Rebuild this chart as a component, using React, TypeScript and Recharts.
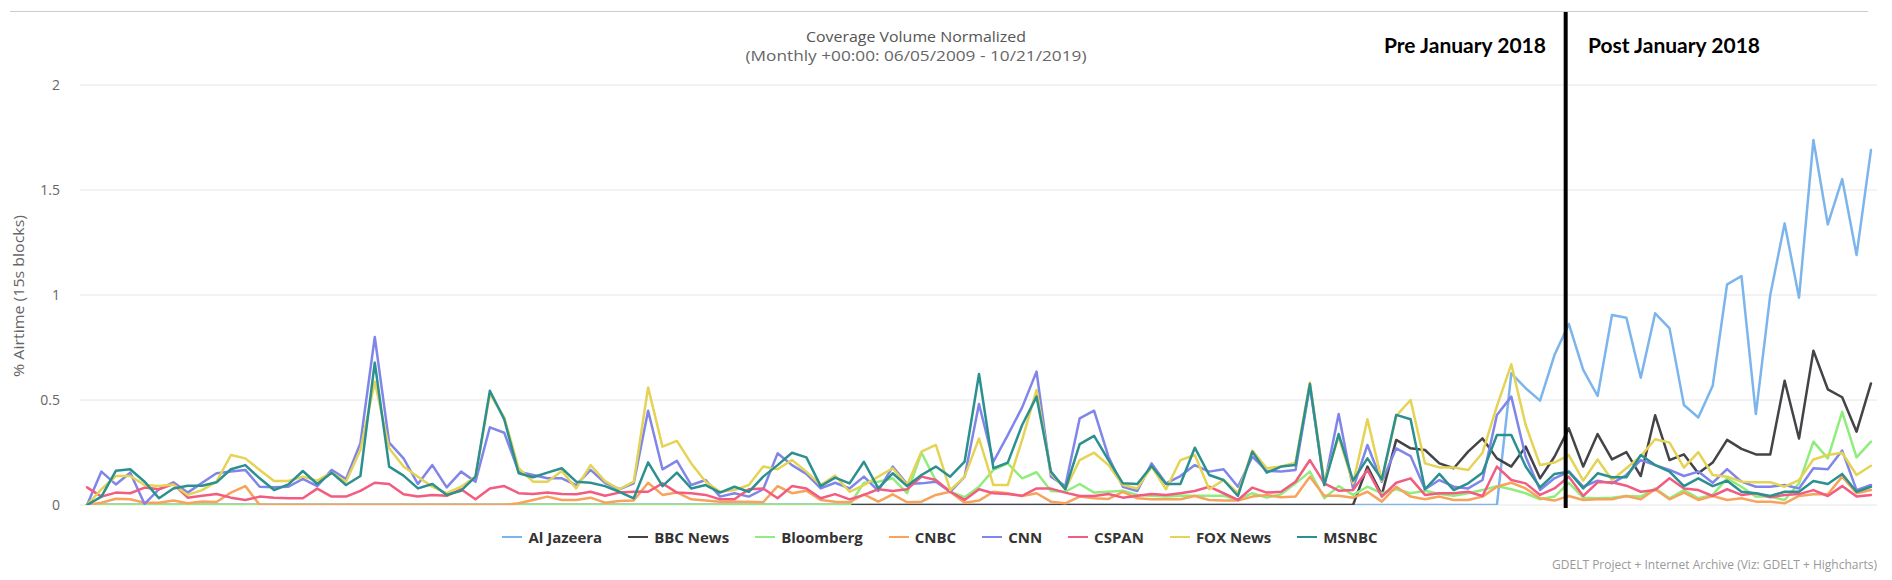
import React from "react";
import { LineChart, Line, XAxis, YAxis, CartesianGrid, ReferenceLine, Legend } from "recharts";

// Monthly index 0 = Jun 2009 ... 124 = Oct 2019
const MONTH_INDEX: number[] = Array.from({ length: 125 }, (_, i) => i);
const Y_TICKS = [0, 0.5, 1, 1.5, 2];

const zeros = (n: number) => Array.from({ length: n }, () => 0);

const AL_JAZEERA: number[] = [
  ...zeros(99),
  0.627, 0.556, 0.497, 0.714, 0.862, 0.643, 0.519, 0.905, 0.892, 0.606,
  0.913, 0.841, 0.476, 0.417, 0.568, 1.051, 1.09, 0.433, 1.0, 1.341,
  0.987, 1.738, 1.336, 1.552, 1.19, 1.69,
];

const BBC_NEWS: number[] = [
  ...zeros(89),
  0.183, 0.048, 0.31, 0.27, 0.262, 0.198, 0.175, 0.254, 0.317, 0.222,
  0.183, 0.278, 0.127, 0.23, 0.365, 0.183, 0.338, 0.217, 0.252, 0.138,
  0.427, 0.214, 0.241, 0.151, 0.202, 0.31, 0.267, 0.241, 0.241, 0.592,
  0.317, 0.735, 0.551, 0.513, 0.349, 0.579,
];

const BLOOMBERG: number[] = [
  ...zeros(54),
  0.106, 0.111, 0.127, 0.056, 0.249, 0.116, 0.063, 0.037, 0.087, 0.167,
  0.198, 0.127, 0.156, 0.067, 0.063, 0.1, 0.059, 0.063, 0.068, 0.048,
  0.044, 0.04, 0.044, 0.044, 0.044, 0.044, 0.024, 0.056, 0.035, 0.051,
  0.103, 0.159, 0.032, 0.09, 0.048, 0.087, 0.056, 0.075, 0.056, 0.068,
  0.052, 0.044, 0.056, 0.071, 0.09, 0.075, 0.056, 0.027, 0.04, 0.105,
  0.035, 0.032, 0.035, 0.043, 0.04, 0.079, 0.032, 0.071, 0.032, 0.048,
  0.127, 0.087, 0.04, 0.04, 0.024, 0.103, 0.302, 0.222, 0.444, 0.227,
  0.302,
];

const CNBC: number[] = [
  0, 0.011, 0.03, 0.027, 0.011, 0.011, 0.021, 0.008, 0.017, 0.014,
  0.059, 0.09, ...zeros(18),
  0.008, 0.024, 0.04, 0.024, 0.024, 0.035, 0.011, 0.019, 0.021, 0.106,
  0.048, 0.06, 0.027, 0.021, 0.016, 0.016, 0.016, 0.013, 0.09, 0.056,
  0.068, 0.024, 0.016, 0.013, 0.051, 0.016, 0.051, 0.013, 0.016, 0.048,
  0.063, 0.011, 0.021, 0.063, 0.056, 0.043, 0.056, 0.016, 0.008, 0.04,
  0.032, 0.029, 0.063, 0.032, 0.027, 0.027, 0.027, 0.043, 0.024, 0.021,
  0.021, 0.04, 0.048, 0.037, 0.04, 0.135, 0.044, 0.044, 0.035, 0.063,
  0.016, 0.087, 0.04, 0.027, 0.04, 0.024, 0.024, 0.04, 0.087, 0.106,
  0.079, 0.032, 0.021, 0.043, 0.024, 0.027, 0.027, 0.043, 0.027, 0.075,
  0.027, 0.059, 0.024, 0.043, 0.024, 0.032, 0.016, 0.016, 0.008, 0.043,
  0.051, 0.051, 0.135, 0.056, 0.071,
];

const CNN: number[] = [
  0, 0.159, 0.098, 0.154, 0.005, 0.075, 0.108, 0.059, 0.106, 0.151,
  0.159, 0.167, 0.087, 0.084, 0.087, 0.124, 0.09, 0.167, 0.124, 0.294,
  0.8, 0.297, 0.222, 0.1, 0.19, 0.084, 0.159, 0.111, 0.37, 0.344,
  0.159, 0.143, 0.127, 0.127, 0.095, 0.167, 0.106, 0.075, 0.103, 0.449,
  0.17, 0.21, 0.095, 0.119, 0.04, 0.056, 0.04, 0.075, 0.246, 0.19,
  0.148, 0.079, 0.106, 0.079, 0.135, 0.067, 0.183, 0.1, 0.103, 0.111,
  0.063, 0.135, 0.481, 0.206, 0.333, 0.465, 0.635, 0.135, 0.09, 0.413,
  0.449, 0.23, 0.087, 0.067, 0.198, 0.103, 0.138, 0.19, 0.159, 0.17,
  0.087, 0.23, 0.163, 0.159, 0.167, 0.567, 0.095, 0.433, 0.079, 0.286,
  0.111, 0.27, 0.233, 0.075, 0.119, 0.087, 0.079, 0.119, 0.429, 0.516,
  0.23, 0.071, 0.127, 0.159, 0.087, 0.116, 0.103, 0.143, 0.214, 0.19,
  0.167, 0.138, 0.159, 0.106, 0.171, 0.111, 0.087, 0.087, 0.095, 0.079,
  0.175, 0.17, 0.259, 0.071, 0.095,
];

const CSPAN: number[] = [
  0.084, 0.04, 0.059, 0.056, 0.083, 0.075, 0.1, 0.035, 0.044, 0.052,
  0.035, 0.024, 0.04, 0.035, 0.032, 0.032, 0.078, 0.04, 0.04, 0.067,
  0.106, 0.1, 0.051, 0.04, 0.048, 0.044, 0.075, 0.027, 0.079, 0.09,
  0.056, 0.052, 0.06, 0.052, 0.051, 0.063, 0.044, 0.059, 0.063, 0.063,
  0.103, 0.059, 0.056, 0.048, 0.027, 0.027, 0.075, 0.079, 0.032, 0.09,
  0.079, 0.032, 0.052, 0.027, 0.048, 0.075, 0.067, 0.075, 0.135, 0.119,
  0.063, 0.024, 0.075, 0.056, 0.052, 0.044, 0.079, 0.078, 0.059, 0.043,
  0.043, 0.052, 0.035, 0.044, 0.052, 0.048, 0.056, 0.067, 0.087, 0.056,
  0.024, 0.083, 0.059, 0.063, 0.111, 0.214, 0.103, 0.068, 0.071, 0.167,
  0.04, 0.106, 0.127, 0.048, 0.056, 0.056, 0.063, 0.043, 0.183, 0.119,
  0.103, 0.048, 0.079, 0.135, 0.043, 0.108, 0.108, 0.092, 0.063, 0.071,
  0.127, 0.079, 0.071, 0.043, 0.075, 0.048, 0.056, 0.037, 0.048, 0.052,
  0.071, 0.043, 0.09, 0.04, 0.048,
];

const FOX_NEWS: number[] = [
  0, 0.075, 0.138, 0.138, 0.095, 0.09, 0.098, 0.048, 0.071, 0.111,
  0.238, 0.222, 0.167, 0.114, 0.114, 0.135, 0.116, 0.154, 0.111, 0.262,
  0.587, 0.27, 0.183, 0.135, 0.087, 0.056, 0.087, 0.135, 0.529, 0.417,
  0.175, 0.111, 0.111, 0.162, 0.079, 0.19, 0.114, 0.075, 0.111, 0.56,
  0.278, 0.305, 0.198, 0.111, 0.063, 0.071, 0.095, 0.183, 0.17, 0.214,
  0.159, 0.095, 0.14, 0.063, 0.095, 0.135, 0.175, 0.095, 0.254, 0.286,
  0.071, 0.135, 0.317, 0.095, 0.095, 0.31, 0.548, 0.151, 0.075, 0.214,
  0.249, 0.19, 0.095, 0.079, 0.183, 0.075, 0.214, 0.238, 0.075, 0.119,
  0.056, 0.259, 0.175, 0.183, 0.202, 0.583, 0.111, 0.325, 0.103, 0.408,
  0.116, 0.424, 0.5, 0.198, 0.179, 0.179, 0.167, 0.249, 0.471, 0.67,
  0.381, 0.19, 0.202, 0.238, 0.116, 0.217, 0.119, 0.175, 0.233, 0.313,
  0.297, 0.178, 0.252, 0.143, 0.135, 0.111, 0.108, 0.108, 0.087, 0.119,
  0.217, 0.238, 0.249, 0.143, 0.187,
];

const MSNBC: number[] = [
  0, 0.04, 0.163, 0.17, 0.111, 0.032, 0.079, 0.092, 0.092, 0.108,
  0.17, 0.19, 0.127, 0.071, 0.098, 0.162, 0.1, 0.154, 0.095, 0.138,
  0.678, 0.183, 0.14, 0.079, 0.1, 0.048, 0.068, 0.135, 0.544, 0.408,
  0.151, 0.132, 0.154, 0.175, 0.111, 0.106, 0.09, 0.063, 0.032, 0.203,
  0.09, 0.154, 0.079, 0.095, 0.059, 0.087, 0.063, 0.135, 0.19, 0.249,
  0.227, 0.09, 0.13, 0.103, 0.206, 0.079, 0.151, 0.09, 0.143, 0.183,
  0.135, 0.206, 0.624, 0.175, 0.202, 0.381, 0.516, 0.159, 0.075, 0.29,
  0.329, 0.214, 0.103, 0.1, 0.186, 0.1, 0.1, 0.273, 0.143, 0.119,
  0.043, 0.254, 0.154, 0.183, 0.19, 0.576, 0.095, 0.338, 0.116, 0.222,
  0.122, 0.429, 0.408, 0.075, 0.148, 0.071, 0.103, 0.154, 0.333, 0.333,
  0.183, 0.084, 0.148, 0.159, 0.079, 0.151, 0.132, 0.132, 0.238, 0.19,
  0.159, 0.09, 0.127, 0.09, 0.116, 0.063, 0.056, 0.043, 0.063, 0.063,
  0.114, 0.1, 0.148, 0.063, 0.087,
];

const SERIES = [
  { key: "aj", name: "Al Jazeera", color: "#7cb5ec", values: AL_JAZEERA },
  { key: "bbc", name: "BBC News", color: "#434348", values: BBC_NEWS },
  { key: "bloomberg", name: "Bloomberg", color: "#90ed7d", values: BLOOMBERG },
  { key: "cnbc", name: "CNBC", color: "#f7a35c", values: CNBC },
  { key: "cnn", name: "CNN", color: "#8085e9", values: CNN },
  { key: "cspan", name: "CSPAN", color: "#f15c80", values: CSPAN },
  { key: "fox", name: "FOX News", color: "#e4d354", values: FOX_NEWS },
  { key: "msnbc", name: "MSNBC", color: "#2b908f", values: MSNBC },
];

// Annotation: split at January 2018 (index 103), drawn just before the point
const SPLIT_X = 102.78;

const rows = MONTH_INDEX.map((i) => {
  const r: Record<string, number> = { i };
  SERIES.forEach((s) => {
    r[s.key] = s.values[i];
  });
  return r;
});

const FONT = '"Open Sans", "DejaVu Sans", sans-serif';

const renderLegend = () => (
  <div
    style={{
      display: "flex",
      justifyContent: "center",
      alignItems: "center",
      height: 22,
      paddingRight: 12,
    }}
  >
    {SERIES.map((s, idx) => (
      <div
        key={s.key}
        style={{
          display: "flex",
          alignItems: "center",
          marginRight: idx === SERIES.length - 1 ? 0 : 26,
        }}
      >
        <span
          style={{
            display: "inline-block",
            width: 20,
            height: 2.5,
            background: s.color,
            marginRight: 6,
          }}
        />
        <span
          style={{
            fontFamily: FONT,
            fontWeight: 700,
            fontSize: 15,
            color: "#333333",
            whiteSpace: "nowrap",
            lineHeight: "22px",
          }}
        >
          {s.name}
        </span>
      </div>
    ))}
  </div>
);

export default function App() {
  return (
    <div style={{ position: "relative", width: 1892, height: 580, background: "#fff", overflow: "hidden" }}>
      <style>{`body{margin:0;}`}</style>
      <LineChart
        width={1892}
        height={580}
        data={rows}
        margin={{ top: 85, right: 15, bottom: 75, left: 0 }}
      >
        <CartesianGrid vertical={false} stroke="#e6e6e6" />
        <XAxis
          type="number"
          dataKey="i"
          domain={[-0.49, 124.42]}
          tick={false}
          tickLine={false}
          height={0}
          axisLine={{ stroke: "#ccd6eb", strokeWidth: 1.5 }}
          allowDataOverflow
        />
        <YAxis
          width={80}
          domain={[0, 2]}
          ticks={Y_TICKS}
          axisLine={false}
          tickLine={false}
          tickMargin={14}
          tick={{ fill: "#666666", fontSize: 14, fontFamily: FONT }}
          allowDataOverflow
        />
        {SERIES.map((s) => (
          <Line
            key={s.key}
            type="linear"
            dataKey={s.key}
            name={s.name}
            stroke={s.color}
            strokeWidth={2.5}
            dot={false}
            activeDot={false}
            isAnimationActive={false}
            strokeLinejoin="round"
            strokeLinecap="round"
          />
        ))}
        <ReferenceLine
          segment={[
            { x: SPLIT_X, y: -0.014 },
            { x: SPLIT_X, y: 2.352 },
          ]}
          stroke="#000"
          strokeWidth={4}
          ifOverflow="visible"
        />
        <Legend
          layout="horizontal"
          verticalAlign="middle"
          align="center"
          content={renderLegend}
          wrapperStyle={{ top: 526, left: 0, width: 1892, height: 22 }}
        />
      </LineChart>
      <svg
        width={1892}
        height={580}
        style={{ position: "absolute", left: 0, top: 0, pointerEvents: "none" }}
      >
        <line x1={10} x2={1868} y1={11.5} y2={11.5} stroke="#cccccc" strokeWidth={1} />
        <text
          x={916}
          y={42}
          textAnchor="middle"
          fontFamily={FONT}
          fontSize={15}
          fill="#555555"
          textLength={220}
          lengthAdjust="spacingAndGlyphs"
        >
          Coverage Volume Normalized
        </text>
        <text
          x={916}
          y={61}
          textAnchor="middle"
          fontFamily={FONT}
          fontSize={14}
          fill="#666666"
          textLength={341}
          lengthAdjust="spacingAndGlyphs"
        >
          (Monthly +00:00: 06/05/2009 - 10/21/2019)
        </text>
        <text
          x={1384}
          y={53}
          fontFamily='Lato, "Open Sans", sans-serif'
          fontWeight={700}
          fontSize={21}
          fill="#000"
          textLength={162}
          lengthAdjust="spacingAndGlyphs"
        >
          Pre January 2018
        </text>
        <text
          x={1588}
          y={53}
          fontFamily='Lato, "Open Sans", sans-serif'
          fontWeight={700}
          fontSize={21}
          fill="#000"
          textLength={172}
          lengthAdjust="spacingAndGlyphs"
        >
          Post January 2018
        </text>
        <text
          transform="translate(24,296) rotate(-90)"
          textAnchor="middle"
          fontFamily={FONT}
          fontSize={15}
          fill="#666666"
          textLength={162}
          lengthAdjust="spacingAndGlyphs"
        >
          % Airtime (15s blocks)
        </text>
        <text
          x={1877}
          y={569}
          textAnchor="end"
          fontFamily={FONT}
          fontSize={12}
          fill="#999999"
          textLength={325}
          lengthAdjust="spacingAndGlyphs"
        >
          GDELT Project + Internet Archive (Viz: GDELT + Highcharts)
        </text>
      </svg>
    </div>
  );
}
